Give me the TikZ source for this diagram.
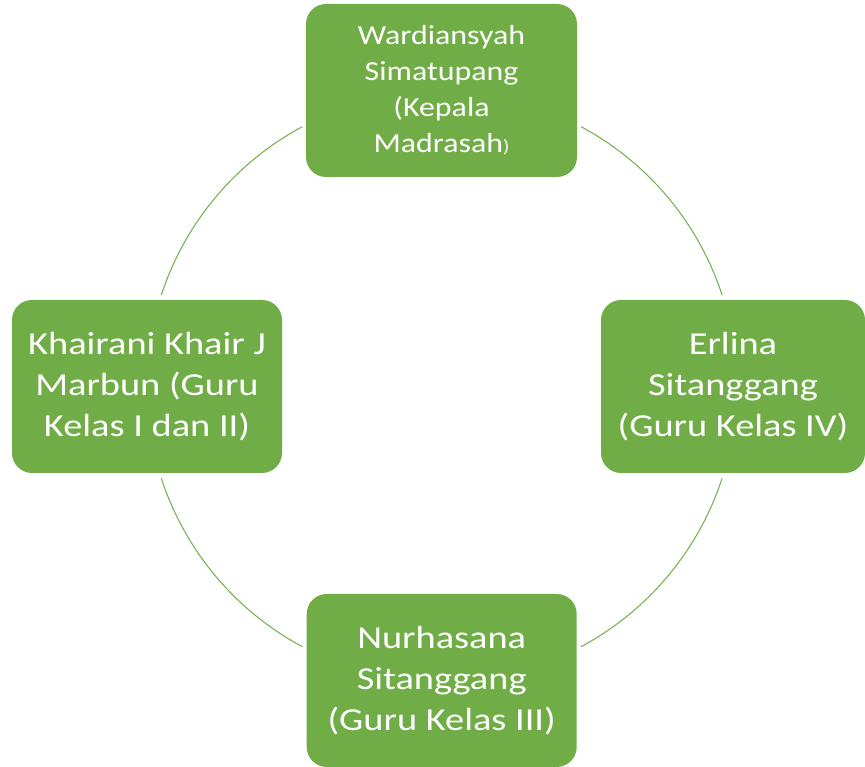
\documentclass[tikz,border=0pt]{standalone}
\usepackage{fontspec}
\setmainfont{Carlito}
\newfontfamily\boxfont[FakeStretch=1.2]{Carlito}
\newfontfamily\headfont[FakeStretch=1.16]{Carlito}
\definecolor{sagreen}{HTML}{70AD47}
\begin{document}
\begin{tikzpicture}[x=1pt,y=1pt,
  person/.style={draw=none, fill=sagreen, rounded corners=20pt, text=white,
    minimum height=173pt, inner sep=0pt, align=center,
    font=\boxfont\fontsize{32}{41}\selectfont},
  headbox/.style={person, font=\headfont\fontsize{27.5}{36}\selectfont},
  conn/.style={draw=sagreen, line width=1pt}]
\useasboundingbox (0,0) rectangle (865,767);
\coordinate (c) at (441.7,380.3);
% arcs
\coordinate (a1) at ([shift={(118.2:295)}]c);
\coordinate (a2) at ([shift={(18.1:295)}]c);
\coordinate (a3) at ([shift={(-61.8:295)}]c);
\coordinate (a4) at ([shift={(198.1:295)}]c);
\draw[conn] (a1) arc[start angle=118.2, end angle=161.9, radius=295];
\draw[conn] (a2) arc[start angle=18.1, end angle=61.8, radius=295];
\draw[conn] (a3) arc[start angle=-61.8, end angle=-18.1, radius=295];
\draw[conn] (a4) arc[start angle=198.1, end angle=241.8, radius=295];
% boxes
\node[headbox, minimum width=271pt] (top) at (441.5,676.5)
  {Wardiansyah\\Simatupang\\(Kepala\\Madrasah{\fontsize{18}{18}\selectfont)}};
\node[person, minimum width=270pt] (left) at (147,380.5)
  {Khairani Khair J\\Marbun (Guru\\Kelas I dan II)};
\node[person, minimum width=264pt] (right) at (733,380.5)
  {Erlina\\Sitanggang\\(Guru Kelas IV)};
\node[person, minimum width=270pt] (bottom) at (441.7,86.5)
  {Nurhasana\\Sitanggang\\(Guru Kelas III)};
\end{tikzpicture}
\end{document}
